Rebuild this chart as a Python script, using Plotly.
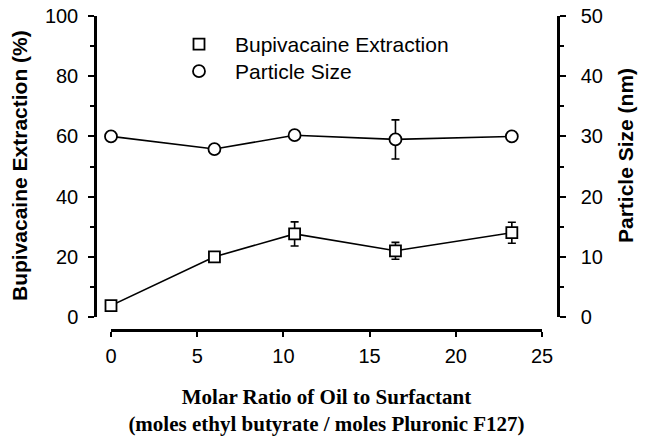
import plotly.graph_objects as go

# Data
ratio = [0, 6.0, 10.65, 16.5, 23.25]
extraction = [3.8, 20.0, 27.6, 22.0, 28.0]
extraction_err = [0, 0, 4.0, 2.8, 3.5]
size_nm = [30.0, 27.9, 30.2, 29.5, 30.0]
size_err = [0, 0, 0, 3.25, 0]

sans = "Liberation Sans, Arial, sans-serif"
serif = "Liberation Serif, Times New Roman, serif"

# body margin is removed in the page (post_script), so figure px == window px
W, H = 645, 441
left_px, right_px, top_px, xaxis_px = 95, 558, 16, 330
ml, mr, mt = left_px, W - right_px, top_px
mb = H - xaxis_px
pw = W - ml - mr
ph = H - mt - mb
x0px, x1px = 111, 542
ybot = 317

fig = go.Figure()

fig.add_trace(go.Scatter(
    x=ratio, y=size_nm, yaxis="y2", mode="lines+markers",
    line=dict(color="black", width=1.6),
    marker=dict(symbol="circle", size=12, color="white", line=dict(color="black", width=1.8)),
    error_y=dict(type="data", array=size_err, color="black", thickness=1.6, width=4),
    cliponaxis=False, showlegend=False))

fig.add_trace(go.Scatter(
    x=ratio, y=extraction, mode="lines+markers",
    line=dict(color="black", width=1.6),
    marker=dict(symbol="square", size=11, color="white", line=dict(color="black", width=1.8)),
    error_y=dict(type="data", array=extraction_err, color="black", thickness=1.6, width=4),
    cliponaxis=False, showlegend=False))

# legend-only entries
fig.add_trace(go.Scatter(x=[None], y=[None], mode="markers", name="Bupivacaine Extraction",
    legend="legend",
    marker=dict(symbol="square", size=11, color="white", line=dict(color="black", width=1.8))))
fig.add_trace(go.Scatter(x=[None], y=[None], mode="markers", name="Particle Size",
    legend="legend2",
    marker=dict(symbol="circle", size=12, color="white", line=dict(color="black", width=1.8))))

tickfont = dict(family=sans, size=20, color="black")
ydom = [(xaxis_px - ybot) / ph, 1]
legfont = dict(family=sans, size=21, color="black")

def ypaper(win_y):
    return (xaxis_px - win_y) / ph

fig.update_layout(
    width=W, height=H,
    margin=dict(l=ml, r=mr, t=mt, b=mb),
    paper_bgcolor="white", plot_bgcolor="white",
    xaxis=dict(
        domain=[(x0px - ml) / pw, (x1px - ml) / pw],
        range=[0, 25], tickvals=[0, 5, 10, 15, 20, 25],
        anchor="free", position=0, automargin=False,
        showline=True, linecolor="black", linewidth=2.5,
        ticks="outside", ticklen=5, tickwidth=2, tickcolor="black",
        showgrid=False, zeroline=False, tickfont=tickfont, ticklabelstandoff=2,
        title=dict(text="<b>Molar Ratio of Oil to Surfactant<br>(moles ethyl butyrate / moles Pluronic F127)</b>",
                   font=dict(family=serif, size=21, color="black"), standoff=23),
    ),
    yaxis=dict(
        domain=ydom,
        range=[0, 100], tickvals=[0, 20, 40, 60, 80, 100],
        anchor="free", position=0, automargin=False, ticklabeloverflow="allow",
        showline=True, linecolor="black", linewidth=2.5,
        ticks="outside", ticklen=6, tickwidth=2, tickcolor="black",
        minor=dict(dtick=10, ticks="outside", ticklen=4, tickwidth=2, tickcolor="black", showgrid=False),
        showgrid=False, zeroline=False, tickfont=tickfont, ticklabelstandoff=6,
    ),
    yaxis2=dict(
        domain=ydom,
        range=[0, 50], tickvals=[0, 10, 20, 30, 40, 50],
        overlaying="y", side="right", anchor="free", position=1, automargin=False,
        ticklabeloverflow="allow",
        showline=True, linecolor="black", linewidth=2.5,
        ticks="outside", ticklen=6, tickwidth=2, tickcolor="black",
        minor=dict(dtick=5, ticks="outside", ticklen=4, tickwidth=2, tickcolor="black", showgrid=False),
        showgrid=False, zeroline=False, tickfont=tickfont, ticklabelstandoff=11,
    ),
    annotations=[
        dict(text="<b>Particle Size (nm)</b>", textangle=-90, showarrow=False,
             xref="paper", yref="paper", x=1, xshift=625 - right_px, xanchor="center",
             y=ypaper(156), yanchor="middle",
             font=dict(family=sans, size=21, color="black")),
        dict(text="<b>Bupivacaine Extraction (%)</b>", textangle=-90, showarrow=False,
             xref="paper", yref="paper", x=0, xshift=19 - left_px, xanchor="center",
             y=ypaper(166), yanchor="middle",
             font=dict(family=sans, size=21, color="black")),
    ],
    legend=dict(x=(163 - left_px) / pw, y=ypaper(24), xanchor="left", yanchor="top",
                font=legfont, bgcolor="rgba(0,0,0,0)", itemwidth=62),
    legend2=dict(x=(163 - left_px) / pw, y=ypaper(51), xanchor="left", yanchor="top",
                 font=legfont, bgcolor="rgba(0,0,0,0)", itemwidth=62),
)

fig.write_html("out.html", config={"displayModeBar": False},
               post_script="document.body.style.margin='0';")
